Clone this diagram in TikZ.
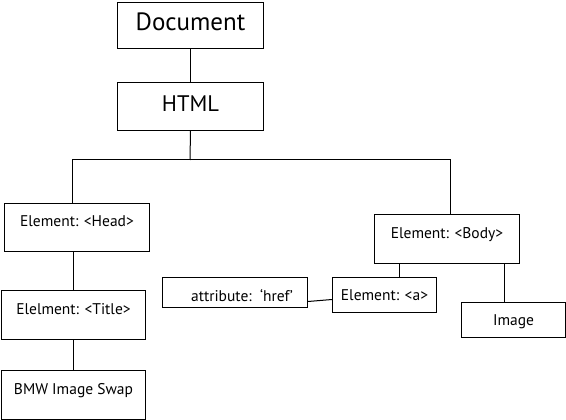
\documentclass[tikz,border=0pt]{standalone}
\usepackage{fontspec}
\setmainfont{PT Sans}
\usetikzlibrary{calc}

\tikzset{
  tagbox/.style={draw, line width=1pt, inner sep=0pt, anchor=north west, font=\fontsize{15.5}{15.5}\selectfont},
  tagline/.style={line width=1pt},
}

\begin{document}
\begin{tikzpicture}[x=1pt, y=-1pt]
			%%%%% START %%%%%
			\useasboundingbox (0, 0) rectangle (566, 420);
			
			\node[tagbox, minimum width=146pt, text height=28.5pt, text depth=17.5pt, font=\fontsize{25}{25}\selectfont] (document) at (117, 2) {Document};
			\node[tagbox, minimum width=146pt, text height=29pt, text depth=19pt, font=\fontsize{22.5}{22.5}\selectfont] (html) at (117, 82) {HTML};
			
			\node[tagbox, minimum width=145pt, text height=23pt, text depth=25pt] (head) at (4, 203) {Element: <Head>};
			\node[tagbox, minimum width=144pt, text height=23.5pt, text depth=25.5pt] (title) at (1, 290) {Elelment: <Title>};
			\node[tagbox, minimum width=144pt, text height=23.5pt, text depth=25.5pt] (bmw) at (1, 370) {BMW Image Swap};
			
			\node[tagbox, minimum width=145pt, text height=23.5pt, text depth=25.5pt] (body) at (374, 214) {Element: <Body>};
			\node[tagbox, minimum width=145pt, text height=23.5pt, text depth=6.5pt] (attr) at (162, 277) {\hspace*{14pt}attribute:\ \ ‘href’};
			\node[tagbox, minimum width=104pt, text height=22.5pt, text depth=12.5pt] (a) at (332, 277) {Element: <a>};
			\node[tagbox, minimum width=104pt, text height=22.5pt, text depth=12.5pt] (image) at (461, 302) {Image};
			
			\coordinate (fork) at (190, 160);
			
			\draw[tagline] (document.south) -- (html.north);
			\draw[tagline] (html.south) -- (fork);
			\draw[tagline] (fork) -| ([xshift=-5pt]head.north);
			\draw[tagline] (fork) -| ([xshift=3.5pt]body.north);
			
			\draw[tagline] (head.south -| title.north) -- (title.north);
			\draw[tagline] (title.south) -- (bmw.north);
			
			\draw[tagline] ([xshift=15pt]a.north |- body.south) -- ([xshift=15pt]a.north);
			\draw[tagline] ([xshift=-9pt]image.north |- body.south) -- ([xshift=-9pt]image.north);
			\draw[tagline] ([yshift=-9pt]attr.east) -- ([yshift=-4.5pt]a.west);
			
			%%%%% END %%%%%
		\end{tikzpicture}
\end{document}
